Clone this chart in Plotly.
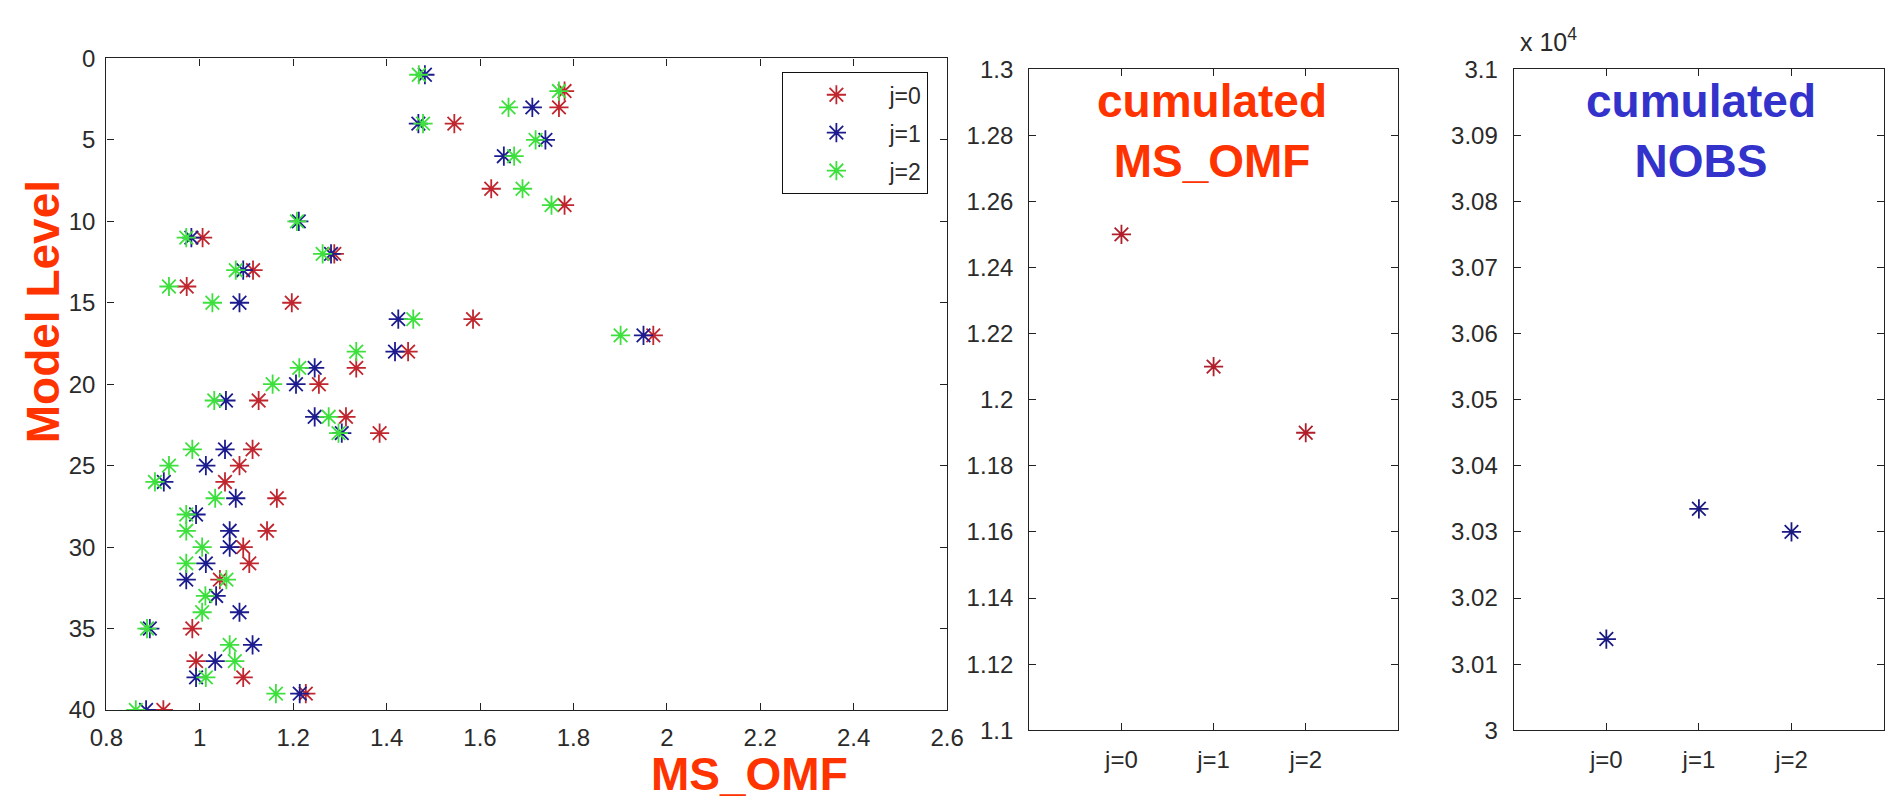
import plotly.graph_objects as go

# ---------------- data ----------------
levels = list(range(1, 41))

# MS_OMF per model level (None = not visible / hidden)
ms_omf_j0 = [None, 1.781, 1.769, 1.545, None, None, None, 1.624, 1.781, None,
             1.006, 1.288, 1.114, 0.972, 1.197, 1.585, 1.971, 1.446, 1.335, 1.255,
             1.126, 1.313, 1.385, 1.113, 1.085, 1.054, 1.165, None, 1.144, 1.093,
             1.106, 1.043, None, None, 0.984, None, 0.992, 1.093, 1.227, 0.922]
ms_omf_j1 = [1.482, None, 1.712, 1.468, 1.740, 1.651, None, None, None, 1.212,
             0.982, 1.281, 1.093, None, 1.085, 1.425, 1.950, 1.418, 1.246, 1.206,
             1.056, 1.246, 1.304, 1.054, 1.013, 0.923, 1.077, 0.992, 1.064, 1.064,
             1.013, 0.971, 1.035, 1.085, 0.893, 1.113, 1.033, 0.992, 1.214, 0.885]
ms_omf_j2 = [1.469, 1.769, 1.661, 1.478, 1.719, 1.673, None, 1.691, 1.753, 1.208,
             0.971, 1.263, 1.077, 0.934, 1.027, 1.457, 1.901, 1.335, 1.213, 1.156,
             1.031, 1.276, 1.297, 0.984, 0.934, 0.904, 1.033, 0.971, 0.971, 1.005,
             0.971, 1.057, 1.012, 1.005, 0.887, 1.064, 1.075, 1.013, 1.163, 0.863]

series_names = ["j=0", "j=1", "j=2"]
series_colors = ["#c0262e", "#1c1c8e", "#3ee03e"]

cum_categories = [0, 1, 2]
cum_labels = ["j=0", "j=1", "j=2"]
cum_ms_omf = [1.25, 1.21, 1.19]
cum_nobs = [30138, 30335, 30300]

left_xticks = [0.8, 1.0, 1.2, 1.4, 1.6, 1.8, 2.0, 2.2, 2.4, 2.6]
left_xticklabels = ["0.8", "1", "1.2", "1.4", "1.6", "1.8", "2", "2.2", "2.4", "2.6"]
left_yticks = [0, 5, 10, 15, 20, 25, 30, 35, 40]
mid_yticks = [1.1, 1.12, 1.14, 1.16, 1.18, 1.2, 1.22, 1.24, 1.26, 1.28, 1.3]
mid_yticklabels = ["1.1", "1.12", "1.14", "1.16", "1.18", "1.2", "1.22", "1.24", "1.26", "1.28", "1.3"]
right_yticks = [30000, 30100, 30200, 30300, 30400, 30500, 30600, 30700, 30800, 30900, 31000]
right_yticklabels = ["3", "3.01", "3.02", "3.03", "3.04", "3.05", "3.06", "3.07", "3.08", "3.09", "3.1"]

# ---------------- figure ----------------
W, H = 1903, 809
FONT = "Liberation Sans, Arial, sans-serif"
AX = "#222222"
TICKFONT = dict(family=FONT, size=24, color="#2a2a2a")

fig = go.Figure()

for name, vals, col in zip(series_names, [ms_omf_j0, ms_omf_j1, ms_omf_j2], series_colors):
    fig.add_trace(go.Scatter(
        x=vals, y=levels, mode="markers", name=name, legendgroup=name,
        marker=dict(symbol="asterisk-open", size=16, color=col, line=dict(color=col, width=1.8)),
        xaxis="x", yaxis="y"))

fig.add_trace(go.Scatter(
    x=cum_categories, y=cum_ms_omf, mode="markers", showlegend=False,
    marker=dict(symbol="asterisk-open", size=16, color="#b01e2a", line=dict(color="#b01e2a", width=1.8)),
    xaxis="x2", yaxis="y2"))

fig.add_trace(go.Scatter(
    x=cum_categories, y=cum_nobs, mode="markers", showlegend=False,
    marker=dict(symbol="asterisk-open", size=16, color="#1a1a80", line=dict(color="#1a1a80", width=1.8)),
    xaxis="x3", yaxis="y3"))

def px(v):
    return v / W

def py(v):
    return 1 - v / H

common = dict(showline=True, linecolor=AX, linewidth=1.3, mirror="ticks",
              ticks="inside", ticklen=7, tickwidth=1.2, tickcolor=AX,
              showgrid=False, zeroline=False, tickfont=TICKFONT)

fig.update_layout(
    width=W, height=H, autosize=False,
    margin=dict(l=0, r=0, t=0, b=0),
    paper_bgcolor="white", plot_bgcolor="white",
    xaxis=dict(domain=[px(91), px(947)], range=[0.8, 2.6], tickmode="array",
               tickvals=left_xticks, ticktext=left_xticklabels,
               ticklabelstandoff=6, anchor="y", **common),
    yaxis=dict(domain=[py(720), py(46)], range=[40, 0], tickmode="array",
               tickvals=left_yticks, ticktext=[str(v) for v in left_yticks],
               ticklabelstandoff=5, anchor="x", **common),
    xaxis2=dict(domain=[px(1030.7), px(1406)], range=[-1, 3], tickmode="array",
                tickvals=cum_categories, ticktext=cum_labels,
                ticklabelstandoff=8, anchor="y2", **common),
    yaxis2=dict(domain=[py(741), py(57)], range=[1.1, 1.3], tickmode="array",
                tickvals=mid_yticks, ticktext=mid_yticklabels,
                ticklabelstandoff=10, anchor="x2", **common),
    xaxis3=dict(domain=[px(1524), px(1901)], range=[-1, 3], tickmode="array",
                tickvals=cum_categories, ticktext=cum_labels,
                ticklabelstandoff=8, anchor="y3", **common),
    yaxis3=dict(domain=[py(741), py(57)], range=[30000, 31000], tickmode="array",
                tickvals=right_yticks, ticktext=right_yticklabels,
                ticklabelstandoff=10, anchor="x3", **common),
    legend=dict(x=px(779), y=py(60), xanchor="left", yanchor="top",
                bgcolor="white", bordercolor="#111111", borderwidth=1.3,
                font=dict(family=FONT, size=23, color="#2a2a2a"),
                itemwidth=96, tracegroupgap=5),
    showlegend=True,
)

title_font = dict(family=FONT, size=46, color="#ff3300", weight="bold")
fig.add_annotation(text="Model Level", xref="paper", yref="paper",
                   x=px(26), y=py(308), textangle=-90, showarrow=False,
                   font=title_font, xanchor="center", yanchor="middle")
fig.add_annotation(text="MS_OMF", xref="paper", yref="paper",
                   x=px(746), y=py(786), showarrow=False,
                   font=title_font, xanchor="center", yanchor="middle")
fig.add_annotation(text="cumulated<br>MS_OMF", xref="paper", yref="paper",
                   x=px(1217), y=py(121), showarrow=False,
                   font=title_font, xanchor="center", yanchor="middle")
fig.add_annotation(text="cumulated<br>NOBS", xref="paper", yref="paper",
                   x=px(1715), y=py(121), showarrow=False,
                   font=dict(family=FONT, size=46, color="#3333cc", weight="bold"),
                   xanchor="center", yanchor="middle")
fig.add_annotation(text="x 10<sup>4</sup>", xref="paper", yref="paper",
                   x=px(1528), y=py(27), showarrow=False,
                   font=dict(family=FONT, size=25, color="#2a2a2a"),
                   xanchor="left", yanchor="middle")

fig.write_html("out.html")
